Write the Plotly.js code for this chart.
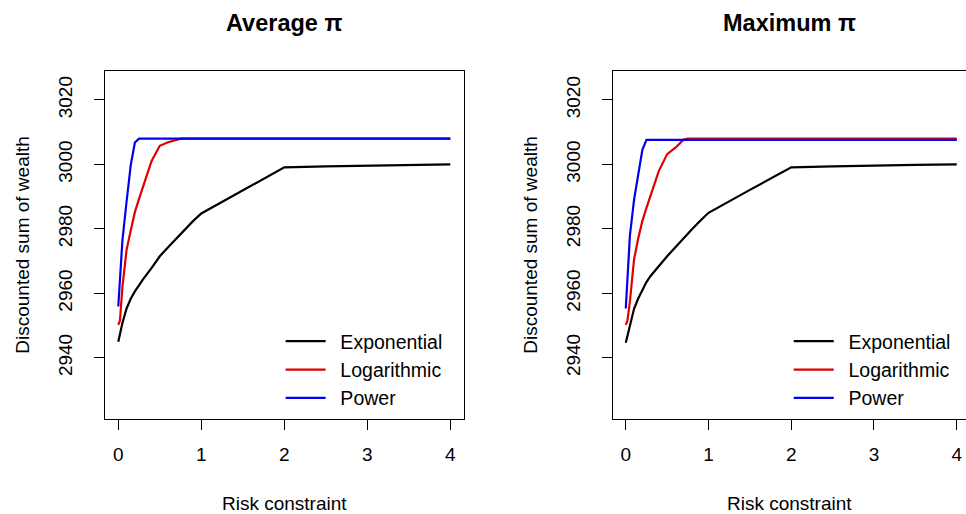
<!DOCTYPE html>
<html>
<head>
<meta charset="utf-8">
<script src="https://cdn.plot.ly/plotly-3.0.1.min.js"></script>
<style>
  html, body { margin: 0; padding: 0; background: #ffffff; }
  #chart { width: 966px; height: 514px; }
</style>
</head>
<body>
<div id="chart"></div>
<script>
// Risk constraint grid shared by every curve
const riskConstraint = [0, 0.02, 0.05, 0.1, 0.15, 0.2, 0.25, 0.3, 0.4, 0.5, 0.6, 0.7, 0.75, 0.8, 0.9, 1, 1.5, 2, 2.5, 3, 3.5, 4];

// Discounted sum of wealth, average pi
const avgExponential = [2945.0, 2947.3, 2950.8, 2955.3, 2958.3, 2960.6, 2962.6, 2964.4, 2967.8, 2971.5, 2974.3, 2977.0, 2978.4, 2979.8, 2982.4, 2984.8, 2992.0, 2999.1, 2999.4, 2999.6, 2999.8, 3000.0];
const avgLogarithmic = [2950.2, 2951.5, 2962.0, 2973.5, 2979.5, 2985.2, 2989.3, 2993.2, 3001.0, 3005.8, 3006.9, 3007.6, 3008.0, 3008.0, 3008.0, 3008.0, 3008.0, 3008.0, 3008.0, 3008.0, 3008.0, 3008.0];
const avgPower       = [2955.9, 2964.2, 2976.5, 2988.5, 2999.8, 3006.8, 3008.0, 3008.0, 3008.0, 3008.0, 3008.0, 3008.0, 3008.0, 3008.0, 3008.0, 3008.0, 3008.0, 3008.0, 3008.0, 3008.0, 3008.0, 3008.0];

// Discounted sum of wealth, maximum pi
const maxExponential = [2944.7, 2947.0, 2950.5, 2955.2, 2958.4, 2961.2, 2963.5, 2965.4, 2968.5, 2971.5, 2974.3, 2977.2, 2978.5, 2979.9, 2982.5, 2985.0, 2992.1, 2999.1, 2999.4, 2999.7, 2999.85, 3000.0];
const maxLogarithmic = [2950.2, 2951.5, 2957.5, 2970.5, 2977.0, 2982.4, 2986.5, 2990.4, 2998.0, 3003.2, 3005.2, 3007.7, 3008.0, 3008.0, 3008.0, 3008.0, 3008.0, 3008.0, 3008.0, 3008.0, 3008.0, 3008.0];
const maxPower       = [2955.3, 2966.0, 2978.0, 2989.0, 2997.3, 3004.5, 3007.6, 3007.6, 3007.6, 3007.6, 3007.6, 3007.6, 3007.6, 3007.6, 3007.6, 3007.6, 3007.6, 3007.6, 3007.6, 3007.6, 3007.6, 3007.6];

const seriesNames = ['Exponential', 'Logarithmic', 'Power'];
const seriesColors = ['#000000', '#e00000', '#0000ee'];
const panelTitles = ['Average \u03c0', 'Maximum \u03c0'];
const xTicks = [0, 1, 2, 3, 4];
const yTicks = [2940, 2960, 2980, 3000, 3020];
const xLabel = 'Risk constraint';
const yLabel = 'Discounted sum of wealth';

const FONT = 'Arial, "Liberation Sans", sans-serif';
const BASE = 19;
// en space between the legend line sample and its label
const LEGEND_PAD = '\u2002';

const panels = [
  { values: [avgExponential, avgLogarithmic, avgPower], xa: 'x', ya: 'y', legend: 'legend' },
  { values: [maxExponential, maxLogarithmic, maxPower], xa: 'x2', ya: 'y2', legend: 'legend2' }
];

const traces = [];
panels.forEach(p => {
  p.values.forEach((vals, i) => {
    traces.push({
      type: 'scatter',
      mode: 'lines',
      x: riskConstraint,
      y: vals,
      name: LEGEND_PAD + seriesNames[i],
      xaxis: p.xa,
      yaxis: p.ya,
      legend: p.legend,
      line: { color: seriesColors[i], width: 2.2 },
      hoverinfo: 'x+y+name'
    });
  });
});

function xAxis(domain, range, anchor) {
  return {
    anchor: anchor,
    domain: domain,
    range: range,
    tickvals: xTicks,
    ticktext: xTicks.map(String),
    ticks: 'outside',
    ticklen: 10,
    tickwidth: 1,
    tickcolor: '#000',
    ticklabelstandoff: 8,
    showline: true,
    linecolor: '#000',
    linewidth: 1,
    mirror: true,
    showgrid: false,
    zeroline: false,
    tickfont: { family: FONT, size: BASE, color: '#000' },
    title: { text: xLabel, font: { family: FONT, size: BASE, color: '#000' }, standoff: 34 }
  };
}

function yAxis(anchor, mirror) {
  return {
    anchor: anchor,
    domain: [0.1848, 0.8619],
    range: [2921, 3029],
    tickvals: yTicks,
    ticktext: yTicks.map(String),
    tickangle: -90,
    ticks: 'outside',
    ticklen: 10,
    tickwidth: 1,
    tickcolor: '#000',
    ticklabelstandoff: 14,
    showline: true,
    linecolor: '#000',
    linewidth: 1,
    mirror: mirror,
    showgrid: false,
    zeroline: false,
    tickfont: { family: FONT, size: BASE, color: '#000' },
    title: { text: yLabel, font: { family: FONT, size: BASE, color: '#000' }, standoff: 20 }
  };
}

function legendBox(x) {
  return {
    x: x, y: 1 - 370 / 514, xanchor: 'left', yanchor: 'middle',
    bgcolor: 'rgba(0,0,0,0)', borderwidth: 0,
    font: { family: FONT, size: 19.5, color: '#000' },
    tracegroupgap: 0,
    itemwidth: 40
  };
}

const layout = {
  width: 966,
  height: 514,
  margin: { l: 0, r: 0, t: 0, b: 0 },
  paper_bgcolor: '#ffffff',
  plot_bgcolor: '#ffffff',
  font: { family: FONT, size: BASE, color: '#000' },
  xaxis: xAxis([0.1087, 0.4799], [-0.16, 4.16], 'y'),
  yaxis: yAxis('x', true),
  xaxis2: xAxis([0.6341, 1], [-0.16, 4.112], 'y2'),
  yaxis2: yAxis('x2', false),
  legend: legendBox(0.2905),
  legend2: legendBox(0.8165),
  annotations: panelTitles.map((t, i) => ({
    text: '<b>' + t + '</b>',
    xref: i === 0 ? 'x domain' : 'x2 domain',
    yref: 'paper',
    x: 0.5, y: 1 - 23 / 514,
    xanchor: 'center', yanchor: 'middle',
    showarrow: false,
    font: { family: FONT, size: 23.5, color: '#000' }
  })),
  showlegend: true
};

Plotly.newPlot('chart', traces, layout, { displayModeBar: false, staticPlot: true });
</script>
</body>
</html>
